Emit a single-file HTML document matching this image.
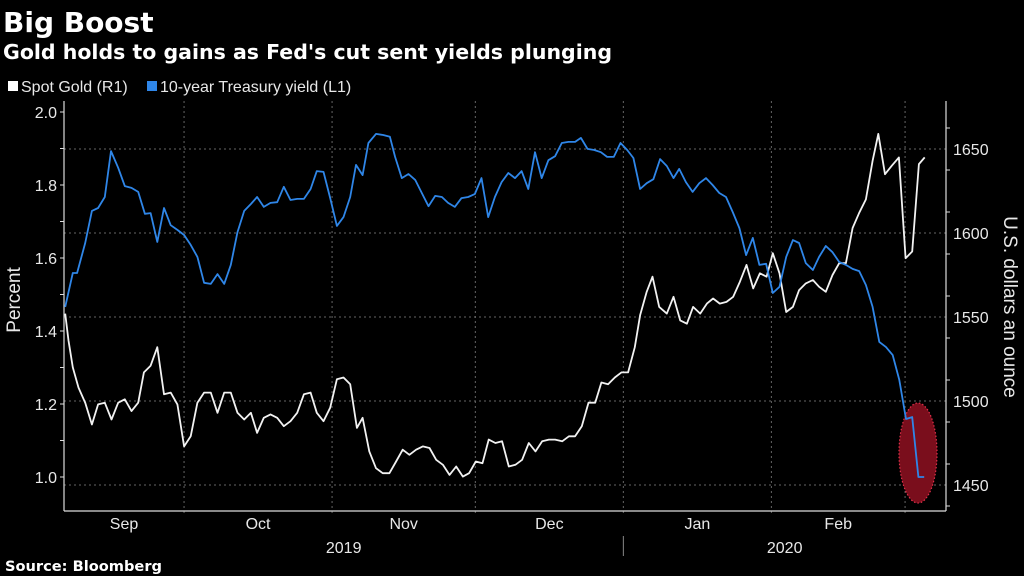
<!DOCTYPE html>
<html><head><meta charset="utf-8"><style>
html,body{margin:0;padding:0;background:#000;width:1024px;height:576px;overflow:hidden}
svg{display:block}
.t{font-family:"Liberation Sans Narrow","Liberation Sans",sans-serif;fill:#e8e8e8}
.b{font-family:"DejaVu Sans","Liberation Sans",sans-serif;font-weight:bold;fill:#fff}
</style></head><body>
<svg id="chart" width="1024" height="576" viewBox="0 0 1024 576">
<text class="b" x="3" y="32" font-size="28">Big Boost</text>
<text class="b" x="3" y="59" font-size="20.5">Gold holds to gains as Fed's cut sent yields plunging</text>
<g>
<rect x="8" y="81" width="10" height="10" fill="#fff"/>
<text class="t" x="21" y="92" font-size="16">Spot Gold  (R1)</text>
<rect x="147" y="81" width="10" height="10" fill="#2f86e8"/>
<text class="t" x="160" y="92" font-size="16">10-year Treasury yield (L1)</text>
</g>
<g id="grid"></g>
<g id="axes"></g>
<ellipse cx="918" cy="453" rx="19" ry="50" fill="#7a0e1c" stroke="#e0304a" stroke-width="1.2" stroke-dasharray="1.5,2"/>
<g id="series"></g>
<text class="t" transform="translate(20,300) rotate(-90)" text-anchor="middle" font-size="19">Percent</text>
<text class="t" transform="translate(1004,307) rotate(90)" text-anchor="middle" font-size="19">U.S. dollars an ounce</text>
<text class="b" x="5" y="571" font-size="14.6">Source: Bloomberg</text>
</svg>
<script>
const yieldDays=[5.1,6.7,7.6,9.3,10.7,12.0,13.4,14.7,16.2,17.6,19.0,20.4,21.8,23.0,24.4,25.8,27.2,28.6,30.0,31.4,32.8,34.2,35.6,37.0,38.4,39.8,41.2,42.6,44.0,45.3,46.7,48.1,49.5,50.9,52.3,53.7,55.1,56.5,57.8,59.2,60.6,62.0,63.4,64.8,66.0,67.4,68.6,70.2,71.7,73.1,74.2,75.6,77.0,78.4,79.8,81.2,82.6,84.0,85.3,86.7,88.1,89.5,90.9,92.3,93.7,95.1,96.5,97.9,99.3,100.7,102.1,103.5,104.9,106.3,107.7,109.1,110.5,111.9,113.1,114.5,115.9,117.3,118.6,120.0,121.4,122.8,124.1,125.5,126.9,128.3,129.7,131.1,132.5,133.7,135.1,136.5,137.9,139.3,140.7,142.1,143.5,144.9,146.3,147.7,149.1,150.5,151.9,153.3,154.7,156.1,157.5,158.8,160.2,161.7,163.0,164.4,165.8,167.2,168.6,170.0,171.4,172.8,174.2,175.6,177.0,178.4,179.8,181.2,182.5,183.8,185.0];
const yieldVals=[1.466,1.559,1.559,1.641,1.729,1.737,1.767,1.893,1.847,1.797,1.792,1.781,1.721,1.723,1.644,1.737,1.690,1.677,1.663,1.636,1.603,1.532,1.529,1.556,1.529,1.581,1.671,1.729,1.748,1.767,1.740,1.751,1.753,1.795,1.759,1.762,1.762,1.789,1.838,1.836,1.764,1.688,1.712,1.767,1.855,1.827,1.915,1.940,1.937,1.932,1.877,1.819,1.830,1.814,1.778,1.742,1.770,1.767,1.751,1.740,1.764,1.767,1.775,1.819,1.712,1.767,1.808,1.833,1.819,1.838,1.789,1.890,1.819,1.868,1.879,1.915,1.918,1.918,1.929,1.899,1.896,1.890,1.877,1.877,1.915,1.896,1.874,1.789,1.805,1.816,1.871,1.852,1.819,1.844,1.808,1.781,1.805,1.819,1.800,1.778,1.767,1.726,1.682,1.608,1.655,1.581,1.584,1.504,1.521,1.603,1.649,1.641,1.586,1.567,1.603,1.633,1.616,1.589,1.581,1.570,1.564,1.526,1.466,1.370,1.356,1.334,1.266,1.159,1.164,1.000,1.000];
const goldDays=[5.1,5.8,6.7,7.9,9.3,10.7,12.0,13.4,14.8,16.2,17.6,19.0,20.4,21.6,23.0,24.4,25.8,27.2,28.6,30.0,31.4,32.8,34.2,35.6,37.0,38.4,39.8,41.2,42.6,44.0,45.3,46.7,48.1,49.5,50.9,52.3,53.7,55.1,56.5,57.8,59.2,60.6,62.0,63.4,64.8,66.2,67.4,68.8,70.2,71.6,73.0,74.4,75.8,77.2,78.6,80.0,81.4,82.8,84.2,85.6,87.0,88.4,89.7,91.1,92.5,93.8,95.2,96.6,98.0,99.4,100.8,102.2,103.6,105.0,106.4,107.7,109.2,110.6,111.9,113.3,114.7,116.1,117.4,118.8,120.2,121.6,123.0,124.4,125.5,126.9,128.1,129.5,131.1,132.5,133.9,135.3,136.6,138.1,139.5,140.8,142.2,143.6,145.0,146.4,147.8,149.2,150.6,152.0,153.3,154.7,156.1,157.5,158.8,160.2,161.7,163.0,164.4,165.8,167.2,168.6,170.0,171.4,172.8,174.2,175.4,176.8,178.2,179.7,181.1,182.5,183.9,185.1];
const goldVals=[1552,1536,1520,1508,1499,1486,1498,1499,1489,1499,1501,1494,1499,1517,1521,1532,1504,1505,1498,1473,1479,1499,1505,1505,1493,1505,1505,1493,1489,1493,1481,1490,1492,1490,1485,1488,1493,1504,1505,1493,1488,1496,1513,1514,1510,1484,1490,1470,1460,1457,1457,1464,1471,1468,1471,1473,1472,1465,1462,1456,1461,1455,1457,1464,1463,1477,1475,1476,1461,1462,1465,1475,1470,1476,1477,1477,1476,1479,1479,1485,1499,1499,1511,1510,1514,1517,1517,1532,1551,1565,1574,1556,1552,1562,1548,1546,1556,1552,1558,1561,1558,1559,1562,1571,1581,1567,1576,1574,1588,1576,1553,1556,1566,1570,1572,1568,1565,1575,1582,1582,1603,1612,1620,1643,1659,1635,1640,1645,1585,1589,1641,1645];
const leftTicks=[1.0,1.2,1.4,1.6,1.8,2.0];
const rightTicks=[1450,1500,1550,1600,1650];
const monthLabels=["Sep","Oct","Nov","Dec","Jan","Feb"];
const monthStarts=[0,30,61,91,122,153,181];
const yearLabels=["2019","2020"];

const NS="http://www.w3.org/2000/svg";
const L=64,R=946,T=101,B=511;
const xS=d=>40.8+d*4.775;
const yL=v=>477-(v-1.0)*365;
const yR=v=>485-(v-1450)*84/50;
function mk(tag,attrs,parent){const e=document.createElementNS(NS,tag);for(const k in attrs)e.setAttribute(k,attrs[k]);parent.appendChild(e);return e;}
const grid=document.getElementById('grid'),axes=document.getElementById('axes'),series=document.getElementById('series');
rightTicks.forEach(v=>{
  const g=mk('line',{x1:L,x2:R,y1:yR(v),y2:yR(v),stroke:'#666','stroke-dasharray':'2,3','stroke-width':1},grid);
  
  
  const t=mk('text',{x:R+7,y:yR(v)+6,'font-size':16,class:'t'},axes);t.textContent=v;
  
  
});
for(let v=1437.5;v<=1675;v+=25){const y=yR(v);if(y<T||y>B)continue;
  const tk=mk('line',{x1:R,x2:R+4,y1:y,y2:y,stroke:'#ddd'},axes);
  
  }
monthStarts.slice(1).forEach(d=>{const x=xS(d);if(x>=R)return;
  const g=mk('line',{x1:x,x2:x,y1:T,y2:B+5,stroke:'#666','stroke-dasharray':'2,3'},grid);
  
  });
monthLabels.forEach((m,i)=>{const a=Math.max(xS(monthStarts[i]),L),b=Math.min(xS(monthStarts[i+1]),R);
  const t=mk('text',{x:(a+b)/2,y:529,'text-anchor':'middle','font-size':16,class:'t'},axes);t.textContent=m;
  
  });
const yb=xS(monthStarts[4]);
const y1=mk('text',{x:(L+yb)/2,y:553,'text-anchor':'middle','font-size':16,class:'t'},axes);y1.textContent=yearLabels[0];


const y2=mk('text',{x:(yb+R)/2,y:553,'text-anchor':'middle','font-size':16,class:'t'},axes);y2.textContent=yearLabels[1];


const sep=mk('line',{x1:yb,x2:yb,y1:536,y2:556,stroke:'#888'},axes);


const la=mk('line',{x1:L,x2:L,y1:T,y2:B,stroke:'#ddd','stroke-width':1.2},axes);


const ra=mk('line',{x1:R,x2:R,y1:T,y2:B,stroke:'#ddd','stroke-width':1.2},axes);


const ba=mk('line',{x1:L,x2:R,y1:B,y2:B,stroke:'#ddd','stroke-width':1.2},axes);


for(let v=1.0;v<=2.05;v+=0.1){const tk=mk('line',{x1:L-4,x2:L,y1:yL(v),y2:yL(v),stroke:'#ddd'},axes);
  
  }
leftTicks.forEach(v=>{const t=mk('text',{x:L-7,y:yL(v)+6,'text-anchor':'end','font-size':16,class:'t'},axes);t.textContent=v.toFixed(1);
  
  });
const gp=mk('polyline',{points:goldDays.map((d,i)=>xS(d).toFixed(1)+','+yR(goldVals[i]).toFixed(1)).join(' '),fill:'none',stroke:'#f2f2f2','stroke-width':1.8,'stroke-linejoin':'round'},series);


const yp=mk('polyline',{points:yieldDays.map((d,i)=>xS(d).toFixed(1)+','+yL(yieldVals[i]).toFixed(1)).join(' '),fill:'none',stroke:'#2f86e8','stroke-width':1.8,'stroke-linejoin':'round'},series);


</script>
</body></html>
